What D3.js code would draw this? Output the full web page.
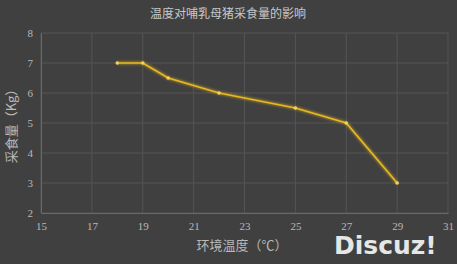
<!DOCTYPE html>
<html lang="zh">
<head>
<meta charset="utf-8">
<title>温度对哺乳母猪采食量的影响</title>
<script src="https://d3js.org/d3.v7.min.js"></script>
<style>
  html, body { margin: 0; padding: 0; background: #404040; }
  svg { display: block; }
  .tick text { font-family: 'Liberation Serif', 'DejaVu Serif', serif; font-size: 11px; }
</style>
</head>
<body>
<div id="chart"></div>
<script>
// data
const temps = [18, 19, 20, 22, 25, 27, 29];
const intake = [7, 7, 6.5, 6, 5.5, 5, 3];
const xTicks = [15, 17, 19, 21, 23, 25, 27, 29, 31];
const yTicks = [2, 3, 4, 5, 6, 7, 8];

const W = 457, H = 264;
const margin = { top: 33, right: 9, bottom: 51, left: 41 };
const width = W - margin.left - margin.right;
const height = H - margin.top - margin.bottom;

const svg = d3.select("#chart").append("svg")
  .attr("width", W).attr("height", H);

svg.append("rect").attr("width", W).attr("height", H).attr("fill", "#404040");

const defs = svg.append("defs");
const glow = defs.append("filter").attr("id", "glow")
  .attr("x", "-20%").attr("y", "-20%").attr("width", "140%").attr("height", "140%");
glow.append("feGaussianBlur").attr("stdDeviation", 1.5).attr("result", "b");
const merge = glow.append("feMerge");
merge.append("feMergeNode").attr("in", "b");
merge.append("feMergeNode").attr("in", "SourceGraphic");

const g = svg.append("g").attr("transform", `translate(${margin.left},${margin.top})`);

const x = d3.scaleLinear().domain([15, 31]).range([0, width]);
const y = d3.scaleLinear().domain([2, 8]).range([height, 0]);

// grid
g.append("g").selectAll("line").data(xTicks).join("line")
  .attr("x1", d => x(d)).attr("x2", d => x(d))
  .attr("y1", 0).attr("y2", height)
  .attr("stroke", "#545454").attr("stroke-width", 1);
g.append("g").selectAll("line").data(yTicks).join("line")
  .attr("x1", 0).attr("x2", width)
  .attr("y1", d => y(d)).attr("y2", d => y(d))
  .attr("stroke", "#545454").attr("stroke-width", 1);

// axes
const xAxis = g.append("g").attr("transform", `translate(0,${height})`)
  .call(d3.axisBottom(x).tickValues(xTicks).tickFormat(d3.format("d")).tickSize(0).tickPadding(9));
const yAxis = g.append("g")
  .call(d3.axisLeft(y).tickValues(yTicks).tickFormat(d3.format("d")).tickSize(0).tickPadding(8));
[xAxis, yAxis].forEach(a => {
  a.attr("font-family", null).attr("font-size", null);
  a.select(".domain").attr("stroke", "#6a6a6a");
  a.selectAll("text").attr("fill", "#b8b8b8");
});

// line
const line = d3.line().x((d, i) => x(temps[i])).y(d => y(d));
g.append("path").datum(intake)
  .attr("d", line)
  .attr("fill", "none")
  .attr("stroke", "#e8b820")
  .attr("stroke-width", 1.6)
  .attr("filter", "url(#glow)");
g.append("g").selectAll("circle").data(intake).join("circle")
  .attr("cx", (d, i) => x(temps[i])).attr("cy", d => y(d))
  .attr("r", 1.8).attr("fill", "#f3d25a");

// titles
const cjk = "'Noto Sans CJK SC', sans-serif";
svg.append("text").attr("x", 228).attr("y", 18)
  .attr("text-anchor", "middle").attr("fill", "#c8c8c8")
  .style("font-family", cjk).style("font-size", "12px")
  .text("温度对哺乳母猪采食量的影响");
svg.append("text").attr("x", 242).attr("y", 250)
  .attr("text-anchor", "middle").attr("fill", "#b8b8b8")
  .style("font-family", cjk).style("font-size", "13px")
  .text("环境温度（℃）");
svg.append("text")
  .attr("transform", `translate(16,${margin.top + height / 2}) rotate(-90)`)
  .attr("text-anchor", "middle").attr("fill", "#b8b8b8")
  .style("font-family", cjk).style("font-size", "13px")
  .text("采食量（Kg）");

// watermark
svg.append("text").attr("x", 334).attr("y", 254)
  .attr("fill", "#e6e6e6")
  .style("font-family", "'DejaVu Sans', sans-serif")
  .style("font-weight", "bold").style("font-size", "25px")
  .text("Discuz!");
</script>
</body>
</html>
